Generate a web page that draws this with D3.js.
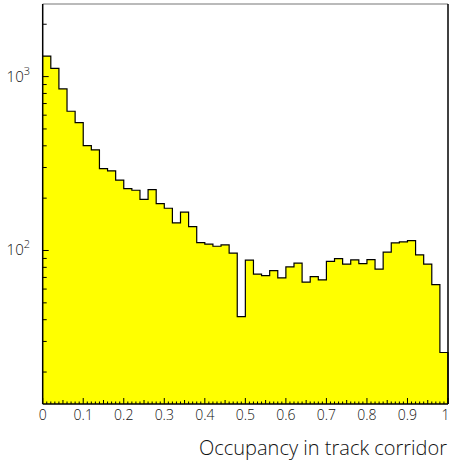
<!DOCTYPE html>
<html><head><meta charset="utf-8">
<script src="https://cdn.jsdelivr.net/npm/d3@7"></script>
<style>
html,body{margin:0;padding:0;background:#fff;}
text{font-family:"Open Sans","DejaVu Sans",sans-serif;font-weight:300;fill:#111;}
</style></head>
<body><svg id="c" width="450" height="463"></svg>
<script>
const binEdges = d3.range(0, 51).map(i => i / 50);
const counts = [1313,1116,849,632,543,401,379,296,287,254,
                227,222,197,224,186,175,144,166,137,111,
                108.7,105.8,107.7,96.5,41.7,88.0,73.1,71.7,76.6,69.6,
                80.5,84.5,65.7,70.8,67.8,86.6,89.8,83.4,88.3,84.1,
                88.6,78.1,97.8,110.6,112.0,114.0,94.3,83.4,63.7,25.9];
const xTickLabels = ["0","0.1","0.2","0.3","0.4","0.5","0.6","0.7","0.8","0.9","1"];
const yMajor = [100, 1000];
const yMajorLabels = ["2", "3"];
const xTitle = "Occupancy in track corridor";

const L = 42.7, R = 448, T = 4, B = 404;
const svg = d3.select("#c");
const x = d3.scaleLinear().domain([0, 1]).range([L, R]);
const y = d3.scaleLog().domain([13.1, 2615]).range([B, T]);

const pts = [];
counts.forEach((v, i) => { pts.push([binEdges[i], v]); pts.push([binEdges[i + 1], v]); });

svg.append("path")
  .attr("d", d3.area().x(d => x(d[0])).y0(B).y1(d => y(d[1]))(pts))
  .attr("fill", "#ffff00");

const linePts = pts.concat([[1, 13.1]]);
svg.append("path")
  .attr("d", d3.line().x(d => x(d[0])).y(d => y(d[1]))(linePts))
  .attr("fill", "none").attr("stroke", "#000").attr("stroke-width", 1.2);

// frame
svg.append("line").attr("x1", L).attr("x2", R).attr("y1", T).attr("y2", T).attr("stroke", "#777").attr("stroke-width", 1.2);
svg.append("line").attr("x1", R).attr("x2", R).attr("y1", T).attr("y2", B).attr("stroke", "#000").attr("stroke-width", 1.5);
svg.append("line").attr("x1", L).attr("x2", L).attr("y1", T).attr("y2", B).attr("stroke", "#000").attr("stroke-width", 1.5);
svg.append("line").attr("x1", L).attr("x2", R).attr("y1", B).attr("y2", B).attr("stroke", "#000").attr("stroke-width", 1.5);

// x ticks
const xt = d3.range(0, 101).map(i => i / 100);
svg.append("g").selectAll("line").data(xt).join("line")
  .attr("x1", d => x(d)).attr("x2", d => x(d))
  .attr("y1", B)
  .attr("y2", (d, i) => B - (i % 10 === 0 ? 6 : (i % 5 === 0 ? 4 : 2.5)))
  .attr("stroke", "#000").attr("stroke-width", 1);
svg.append("g").selectAll("text").data(xTickLabels).join("text")
  .attr("x", (d, i) => Math.min(x(i / 10), 445.5)).attr("y", 420)
  .attr("text-anchor", "middle").attr("font-size", 14).text(d => d);

// y ticks
const yt = [];
for (let dec = 10; dec <= 1000; dec *= 10) for (let k = 1; k <= 9; k++) {
  const v = dec * k; if (v >= 13.1 && v <= 2615) yt.push(v);
}
svg.append("g").selectAll("line").data(yt).join("line")
  .attr("x1", L).attr("x2", d => L + (yMajor.includes(d) ? 6 : 4))
  .attr("y1", d => y(d)).attr("y2", d => y(d))
  .attr("stroke", "#000").attr("stroke-width", 1);
const yl = svg.append("g").selectAll("text").data(yMajor).join("text")
  .attr("x", 30).attr("y", d => y(d) + 5)
  .attr("text-anchor", "end").attr("font-size", 15);
yl.append("tspan").text("10");
yl.append("tspan").attr("dy", -7).attr("font-size", 11).text((d, i) => yMajorLabels[i]);

svg.append("text").attr("x", 447).attr("y", 455).attr("text-anchor", "end")
  .attr("font-size", 20).attr("textLength", 248).attr("lengthAdjust", "spacingAndGlyphs").text(xTitle);
</script></body></html>
